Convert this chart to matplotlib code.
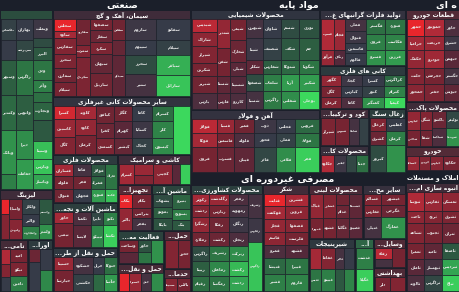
import matplotlib
matplotlib.use('Agg')
import matplotlib.pyplot as plt
from matplotlib.patches import Rectangle
from matplotlib.colors import to_rgb
import numpy as np

# ---------------- data: sectors -> columns -> (size, change %, symbol) ----------------
left_fin = [
    (16, [(22, 0.1, 'ملکشاش'), (20, 0.0, ''), (35, 0.6, 'وسپهر'), (35, 0.8, 'وکغدیر'), (45, 1.6, 'وبانک'), (15, 1.2, '')]),
    (17, [(22, 0.0, 'بهاران'), (20, 0.2, 'سرپرشه'), (35, 1.0, 'زاگرس'), (35, 0.6, 'واتوس'), (30, 1.5, 'دیرا'), (30, 1.8, 'حفاظت')]),
    (20, [(20, -0.1, 'وبملت'), (9, 0.3, ''), (13, 0.5, 'البرز'), (20, 1.0, 'ودی'), (12, 1.2, 'وآذر'), (10, 0.9, ''),
          (18, 0.7, 'وتجارت'), (22, 0.5, ''), (18, 2.5, 'وسینا'), (15, 2.6, 'وپارس'), (15, 2.0, 'وپاسار')]),
]
leasing = [
    (8, [(12, -3.5, ''), (20, -1.2, '')]),
    (14, [(16, -1.0, 'ولساپا'), (16, -1.3, 'ولبهمن')]),
    (17, [(12, 0.1, 'ولکار'), (10, 0.0, 'والبر'), (10, 1.2, 'ولتجارت')]),
    (14, [(20, 0.5, 'ولصنم'), (12, 1.6, 'ولغدر')]),
]
tamin = [
    (10, [(16, -2.0, ''), (14, -1.2, ''), (14, 0.0, '')]),
    (18, [(14, -1.0, 'امید'), (14, -1.1, 'تپکو'), (16, 1.2, 'تامین')]),
]
avraq = [
    (12, [(14, -0.8, ''), (30, 0.0, '')]),
    (13, [(22, 0.0, ''), (22, 1.4, '')]),
]
cement = [
    (22, [(13, -3.5, 'سخاش'), (7, -1.8, 'ساوه'), (16, -1.2, 'سفارس'), (14, -1.1, 'سخزر'), (15, -0.9, 'سمازن'), (14, -1.0, 'سیلام')]),
    (15, [(27, -0.9, 'سفارود'), (12, -1.2, 'سغرب'), (40, -1.1, 'سکرمان')]),
    (22, [(12, -1.0, 'سصفها'), (12, -0.8, 'سفار'), (12, -1.1, 'سکرد'), (20, -0.7, 'سبهان'), (23, -0.9, 'ساربیل')]),
    (13, [(22, -0.9, 'سقاین'), (15, -0.7, 'سدشت'), (42, -0.6, 'سیدکو')]),
    (32, [(22, -0.1, 'ساروم'), (15, 0.0, 'سیپوم'), (20, 0.3, 'سخزر'), (22, -0.2, 'سنیر')]),
    (34, [(22, 0.0, 'سفانو'), (15, 0.1, 'سیلام'), (21, 2.2, 'سباقر'), (21, 2.6, 'سارابل')]),
]
nonmetal = [
    (21, [(14, -2.6, 'کسرا'), (18, -1.6, 'کاسپین'), (18, -1.2, 'کگل')]),
    (22, [(14, -1.8, 'کلوند'), (16, -1.5, 'کاوه'), (20, -1.0, 'کرمان')]),
    (18, [(18, -0.9, 'کبافق'), (16, -0.8, 'کفرا'), (16, -1.1, 'کسعدی')]),
    (18, [(16, -0.9, 'کگاز'), (18, -0.5, 'کهرام'), (16, -0.7, 'کپشیر')]),
    (20, [(16, 0.0, 'کاما'), (17, -0.1, 'کساپا'), (17, 0.1, 'کخاک')]),
    (22, [(16, 0.9, 'کسرام'), (17, 1.3, 'کلر'), (17, 1.5, 'کیسون')]),
    (17, [(50, 3.0, '')]),
]
metal = [
    (20, [(13, -1.8, 'فسازان'), (13, -1.0, 'فلوله'), (14, -0.9, 'فنوال')]),
    (18, [(13, -0.2, 'فاما'), (13, -0.9, 'فجر'), (14, 0.0, 'فجهان')]),
    (15, [(13, 0.5, 'فولاژ'), (13, 0.7, 'فمراد'), (14, 1.8, 'فنورد')]),
    (12, [(26, 1.0, 'فاراک'), (14, 2.5, 'فکمند')]),
]
machinery = [
    (20, [(12, -1.8, 'خاور'), (25, -1.0, 'تپمپی')]),
    (18, [(14, -0.3, 'تکمبا'), (23, -0.5, 'لابسا')]),
    (13, [(14, 0.2, 'تایرا'), (23, 1.4, 'تیپیکو')]),
    (14, [(14, 1.2, 'تکنو'), (23, 2.8, 'تکشا')]),
]
rail = [
    (20, [(14, -1.6, 'حسینا'), (22, -1.0, 'حپارسا')]),
    (20, [(18, -0.2, 'حشکوه'), (18, 0.1, 'حکشتی')]),
    (12, [(18, 0.0, 'حریل'), (18, 0.8, 'حفارس')]),
    (13, [(18, 0.9, 'حتوکا'), (18, 1.8, 'حآسا')]),
]
tile = [
    (15, [(22, -1.8, 'کسرام')]),
    (20, [(12, -1.6, ''), (10, -1.2, '')]),
    (20, [(22, -1.4, 'کچینی')]),
    (8, [(22, -0.5, '')]),
    (10, [(22, 2.8, '')]),
]
equip = [
    (14, [(15, -3.0, 'بکاب'), (23, -1.5, 'بالبر')]),
    (20, [(15, -1.0, 'بکام'), (11, -0.9, 'بترانس'), (12, -0.2, 'بفجر')]),
]
elec = [
    (20, [(14, 0.3, 'بشهاب'), (12, 0.6, 'بموتو'), (12, 0.4, 'بایکا')]),
    (19, [(16, 0.7, 'بنیرو'), (12, 1.2, 'بسویچ'), (10, 0.5, 'بتک')]),
]
eng = [
    (20, [(13, -1.0, 'وساخت'), (12, -0.5, '')]),
    (13, [(13, 0.4, 'خاور'), (12, 1.0, '')]),
    (13, [(25, 1.6, '')]),
]
land = [
    (10, [(20, -3.0, 'حتوکا')]),
    (13, [(20, -1.6, 'حسیرا')]),
    (10, [(20, -0.2, 'حمل')]),
    (13, [(20, 1.5, '')]),
]
ship = [
    (14, [(30, -1.2, 'حکشتی')]),
    (13, [(30, -1.0, 'حخزر')]),
]
indus = [
    (13, [(15, -1.3, 'سمینا')]),
    (14, [(15, -1.0, 'بالاس')]),
]
chem = [
    (25, [(14, -2.2, 'شپدیس'), (14, -1.4, 'شاراک'), (17, -1.2, 'شیراز'), (13, -1.0, 'شکربن'), (18, -0.9, 'شبریز'), (16, -0.3, 'پارس')]),
    (14, [(30, -1.5, 'شغدیر'), (28, -1.0, 'شفن'), (18, -0.6, 'شستا'), (16, -0.5, 'فارس')]),
    (16, [(22, -1.0, 'شیمی'), (22, -0.8, 'شخارک'), (14, -0.5, 'شپلی'), (18, -0.4, 'شسینا'), (16, -0.3, 'کازرو')]),
    (17, [(20, -0.2, 'شبهرن'), (22, -0.1, 'شپنا'), (14, -0.6, 'شکلر'), (18, 0.3, 'شصفها'), (18, -0.2, 'شسپا')]),
    (18, [(20, 0.0, 'شاوان'), (22, 0.1, 'شصدف'), (14, 0.6, 'شفارس'), (18, 1.2, 'شلعاب'), (18, 1.1, 'زاگرس')]),
    (19, [(20, 0.3, 'شسم'), (22, 0.5, 'شکف'), (14, 0.8, 'شتوکا'), (18, 1.8, 'آریا'), (18, 1.5, 'شفاس')]),
    (20, [(20, 0.4, 'نوری'), (22, 0.6, 'جم'), (14, 1.0, 'شگویا'), (18, 1.8, 'شکبیر'), (18, 3.0, 'بوعلی')]),
]
iron = [
    (25, [(15, -2.2, 'فولاژ'), (14, -1.8, 'فوکا'), (26, -1.0, 'فروی')]),
    (18, [(15, -1.6, 'فسپا'), (14, -1.0, 'فاسمین'), (26, -0.8, 'فسرب')]),
    (20, [(15, -0.9, 'فمیر'), (14, -0.3, 'فلوله'), (26, -0.6, 'فیبان')]),
    (22, [(15, -0.1, 'ذوب'), (14, 0.0, 'فخوز'), (26, 0.2, 'فاذر')]),
    (20, [(15, 0.0, 'فخاس'), (14, 0.1, 'فملی'), (26, 1.5, 'فلامی')]),
    (24, [(15, 0.8, 'فروس'), (14, 1.0, 'فولاد'), (26, 2.8, 'فجر')]),
]
precious = [
    (13, [(32, -2.0, 'فسرب'), (16, -1.6, 'فرآور')]),
    (12, [(32, -1.6, 'فجام'), (16, -0.4, 'زنگان')]),
    (21, [(13, -0.2, 'فملی'), (12, -0.1, 'فنوال'), (11, 0.0, 'فاسمین'), (12, 0.0, 'فالوم')]),
    (20, [(16, 0.9, 'فگستر'), (16, 1.2, 'فروی'), (16, 1.6, 'فسرو')]),
    (20, [(16, 1.0, 'فنورد'), (16, 1.3, 'فکاسپ'), (16, 1.8, 'فزرین')]),
]
minerals = [
    (20, [(12, -1.5, 'کگهر'), (12, -1.0, 'کگل'), (11, -1.2, 'کرمان')]),
    (22, [(12, -0.1, 'کچاد'), (12, 0.0, 'کپارس'), (11, -0.3, 'کاما')]),
    (22, [(12, 0.0, 'کسرا'), (12, 0.1, 'کنور'), (11, 1.6, 'کمنگنز')]),
    (22, [(12, 0.8, 'کزاگرس'), (12, 1.3, 'کترام'), (11, 3.0, 'کیمیا')]),
]
nitro = [
    (15, [(29, -1.1, 'شیراز')]),
    (14, [(29, -1.0, 'شپرس')]),
    (11, [(29, -0.2, 'شاملا')]),
    (9, [(29, 0.1, 'شرانل')]),
]
paper = [
    (14, [(19, -2.0, 'چکاوه')]),
    (12, [(19, -0.1, 'چفیبر')]),
    (11, [(19, 0.2, 'چکارن')]),
    (12, [(19, 0.9, 'چدنا')]),
]
coal = [
    (17, [(14, -1.2, 'کزغال'), (14, -0.8, 'کشرق'), (28, 0.3, 'کپرور')]),
    (20, [(14, 0.0, 'کطبس'), (14, 1.2, 'کرمان'), (28, 1.6, '')]),
]
parts = [
    (18, [(18, -3.2, 'خمهر'), (14, -1.8, 'خزامیا'), (18, -1.5, 'خکمک'), (17, -1.2, 'خلنت'), (17, -1.3, 'خمحور')]),
    (20, [(18, -2.0, 'خموتور'), (14, -1.6, 'خریخت'), (18, -1.7, 'خودرو'), (17, -1.0, 'خچرخش'), (17, -1.1, 'خفنر')]),
    (16, [(18, -0.3, 'خاور'), (14, -0.1, 'خشرق'), (18, -0.5, 'خبهمن'), (17, -0.2, 'خگستر'), (17, -0.6, 'خپویش')]),
]
clean = [
    (13, [(20, -1.5, 'لپارس'), (17, -1.0, 'شاخص')]),
    (13, [(20, -1.2, 'شگل'), (17, -0.9, 'شفا')]),
    (14, [(18, -0.8, 'پاکشو'), (19, -0.3, 'شپاکسا')]),
    (14, [(18, 0.2, 'تولیمر'), (19, 1.6, 'شوینده')]),
]
auto = [
    (12, [(17, -1.6, 'خساپا')]),
    (12, [(17, -1.2, 'خودرو')]),
    (13, [(17, -1.3, 'خپارس')]),
    (17, [(17, -1.0, 'خکاوه')]),
]
realestate = [
    (18, [(20, -2.0, 'ثنوسا'), (12, -1.4, 'ثاخت'), (20, -1.2, 'ثشاهد'), (17, -1.0, 'ثعمرا'), (16, -0.5, 'ثامان'), (16, -0.3, 'ثالوند')]),
    (18, [(20, -1.6, 'ثفارس'), (12, -1.2, 'ثرود'), (20, -1.0, 'ثجنوب'), (17, -0.6, 'ثامید'), (16, -0.2, 'ثبهساز'), (16, 0.2, 'ثزاگرس')]),
    (18, [(20, -1.4, 'ثمسکن'), (12, -1.1, 'ثشرق'), (20, -0.8, 'ثتران'), (17, 0.5, 'ثاصفا'), (16, 2.0, 'ثپردیس'), (16, 2.8, 'ثباغ')]),
]
agri = [
    (18, [(12, -1.8, 'زکوثر'), (12, -1.2, 'زدشت'), (15, -1.5, 'زشگزا'), (14, -0.9, 'زملارد'), (16, 0.3, 'زاگرس'), (15, 0.6, 'زبینا'), (15, 0.9, 'زقیام')]),
    (20, [(12, -1.6, 'زگلدشت'), (12, -1.0, 'زپارس'), (15, -0.9, 'زفکا'), (14, -0.8, 'زکشت'), (16, 1.0, 'زشریف'), (15, 1.4, 'زماهان'), (15, 1.0, 'زمگسا')]),
    (20, [(12, -0.3, 'زفجر'), (12, -0.2, 'زمهویه'), (15, -0.1, 'زنگان'), (14, -0.3, 'زنجان'), (16, 1.5, 'زبرکت'), (15, 2.4, 'زکشت'), (15, 2.0, 'زدشت')]),
    (14, [(25, -0.2, 'زشریف'), (24, -0.1, 'زفارس'), (50, 2.6, 'زاگرس')]),
]
sugar = [
    (22, [(13, -3.2, 'قثابت'), (13, -1.8, 'قهکمت'), (13, -1.5, 'قچار'), (13, -1.4, 'قاسم'), (13, -0.3, 'قمرو'), (17, 0.8, 'قنیشا'), (17, 1.2, 'قشیر')]),
    (24, [(13, -1.9, 'قشرین'), (13, -1.4, 'قزوین'), (13, -1.3, 'قصفها'), (13, -1.0, 'قلرست'), (13, -0.4, 'قشهد'), (17, 1.0, 'قپیرا'), (17, 1.3, 'قاروم')]),
]
dairy = [
    (13, [(25, -1.5, 'غپاک'), (21, -1.0, 'غمهرا')]),
    (14, [(25, -1.2, 'غشاذر'), (21, -1.0, 'غشهد')]),
    (13, [(12, -0.9, 'غکورش'), (13, -0.8, 'غدام'), (21, -0.7, 'غگلپا')]),
    (14, [(25, -0.6, 'غشصفا'), (21, -0.5, 'غصینو')]),
]
food = [
    (18, [(12, -1.2, 'غسالم'), (12, -1.1, 'غفارس'), (22, -0.2, 'غنیلی')]),
    (25, [(12, -1.0, 'غبشهر'), (12, -0.8, 'غگرجی'), (22, 1.6, 'غمارگ')]),
]
sweets = [
    (12, [(22, -1.8, 'غشیرین'), (23, 1.0, 'غدیس')]),
    (14, [(22, -1.2, 'غفاما'), (23, 1.2, 'غپینو')]),
    (10, [(22, -0.2, 'غالبر'), (23, 0.5, 'غبهنوش')]),
    (10, [(22, 0.0, 'غکورش'), (23, 1.3, 'غبهار')]),
]
drinks = [
    (19, [(22, 1.2, 'غدشت'), (23, 2.8, 'غگیلا')]),
]
motor = [
    (18, [(12, -2.2, 'رفاه'), (9, -0.2, '')]),
    (14, [(21, -1.0, '')]),
]
beh = [
    (16, [(16, -1.0, 'دلر')]),
    (16, [(16, -1.2, '')]),
]

sector_titles = {
    'left_fin': '', 'leasing': 'لیزینگ', 'tamin': 'تامین سرمایه', 'avraq': 'اوراق بهادار',
    'cement': 'سیمان، آهک و گچ', 'nonmetal': 'سایر محصولات کانی غیرفلزی',
    'metal': 'محصولات فلزی', 'machinery': 'ماشین آلات و تجهیزات',
    'rail': 'حمل و نقل از طریق خطوط راه آهن', 'tile': 'کاشی و سرامیک',
    'equip': 'تجهیزات صنعتی', 'elec': 'ماشین آلات الکتریکی', 'eng': 'فعالیت مهندسی',
    'land': 'حمل و نقل بار زمینی', 'ship': 'حمل و نقل کشتیرانی', 'indus': 'خدمات صنعتی',
    'chem': 'محصولات شیمیایی', 'iron': 'آهن و فولاد', 'precious': 'تولید فلزات گرانبهای غیرآهنی',
    'minerals': 'کانی های فلزی', 'nitro': 'کود و ترکیبات نیتروژن', 'paper': 'محصولات کاغذی',
    'coal': 'زغال سنگ', 'parts': 'قطعات خودرو', 'clean': 'محصولات پاک کننده', 'auto': 'خودرو',
    'realestate': 'انبوه سازی املاک و مستغلات', 'agri': 'محصولات کشاورزی و دامپروری',
    'sugar': 'شکر', 'dairy': 'محصولات لبنی', 'food': 'سایر محصولات غذایی', 'sweets': 'شیرینیجات',
    'drinks': 'آشامیدنی', 'motor': 'وسایل نقلیه موتوری', 'beh': 'بهداشتی',
}
sector_data = {
    'left_fin': left_fin, 'leasing': leasing, 'tamin': tamin, 'avraq': avraq, 'cement': cement,
    'nonmetal': nonmetal, 'metal': metal, 'machinery': machinery, 'rail': rail, 'tile': tile,
    'equip': equip, 'elec': elec, 'eng': eng, 'land': land, 'ship': ship, 'indus': indus,
    'chem': chem, 'iron': iron, 'precious': precious, 'minerals': minerals, 'nitro': nitro,
    'paper': paper, 'coal': coal, 'parts': parts, 'clean': clean, 'auto': auto,
    'realestate': realestate, 'agri': agri, 'sugar': sugar, 'dairy': dairy, 'food': food,
    'sweets': sweets, 'drinks': drinks, 'motor': motor, 'beh': beh,
}

# treemap structure (relative sizes of groups)
layout = ('H', [
    (53, ('V', [(10, ('T', '', 0.5)), (180, ('S', 'left_fin')), (50, ('S', 'leasing')),
                (52, ('H', [(28, ('S', 'tamin')), (25, ('S', 'avraq'))]))])),
    (138, ('V', [(10, ('T', 'صنعتی', 0.5)), (87, ('S', 'cement')), (58, ('S', 'nonmetal')),
                 (137, ('H', [
                     (65, ('V', [(48, ('S', 'metal')), (45, ('S', 'machinery')), (44, ('S', 'rail'))])),
                     (73, ('V', [(30, ('S', 'tile')), (107, ('V', [
                         (46, ('H', [(34, ('S', 'equip')), (39, ('S', 'elec'))])),
                         (61, ('H', [(46, ('V', [(33, ('S', 'eng')), (28, ('S', 'land'))])),
                                     (27, ('V', [(38, ('S', 'ship')), (23, ('S', 'indus'))]))]))]))]))]))])),
    (215, ('V', [
        (10, ('T', 'مواد پایه', 0.5)),
        (163, ('H', [(129, ('V', [(100, ('S', 'chem')), (63, ('S', 'iron'))])),
                     (86, ('V', [(56, ('S', 'precious')), (43, ('S', 'minerals')),
                                 (64, ('H', [(49, ('V', [(37, ('S', 'nitro')), (27, ('S', 'paper'))])),
                                             (37, ('S', 'coal'))]))]))])),
        (12, ('T', 'مصرفی غیردوره ای', 0.45)),
        (107, ('H', [(72, ('S', 'agri')), (46, ('S', 'sugar')),
                     (97, ('V', [(54, ('H', [(54, ('S', 'dairy')), (43, ('S', 'food'))])),
                                 (53, ('H', [(46, ('S', 'sweets')), (19, ('S', 'drinks')),
                                             (32, ('V', [(29, ('S', 'motor')), (24, ('S', 'beh'))]))]))]))]))])),
    (54, ('V', [(10, ('T', 'ه ای', 0.74)), (92, ('S', 'parts')), (45, ('S', 'clean')), (24, ('S', 'auto')),
                (12, ('T', 'املاک و مستغلات', 0.5)), (109, ('S', 'realestate'))])),
])

# ---------------- Persian shaping (presentation forms) ----------------
FORMS = {
    'ا': ('\uFE8D', '\uFE8E', None, None), 'آ': ('\uFE81', '\uFE82', None, None),
    'ب': ('\uFE8F', '\uFE90', '\uFE91', '\uFE92'), 'پ': ('\uFB56', '\uFB57', '\uFB58', '\uFB59'),
    'ت': ('\uFE95', '\uFE96', '\uFE97', '\uFE98'), 'ث': ('\uFE99', '\uFE9A', '\uFE9B', '\uFE9C'),
    'ج': ('\uFE9D', '\uFE9E', '\uFE9F', '\uFEA0'), 'چ': ('\uFB7A', '\uFB7B', '\uFB7C', '\uFB7D'),
    'ح': ('\uFEA1', '\uFEA2', '\uFEA3', '\uFEA4'), 'خ': ('\uFEA5', '\uFEA6', '\uFEA7', '\uFEA8'),
    'د': ('\uFEA9', '\uFEAA', None, None), 'ذ': ('\uFEAB', '\uFEAC', None, None),
    'ر': ('\uFEAD', '\uFEAE', None, None), 'ز': ('\uFEAF', '\uFEB0', None, None),
    'ژ': ('\uFB8A', '\uFB8B', None, None),
    'س': ('\uFEB1', '\uFEB2', '\uFEB3', '\uFEB4'), 'ش': ('\uFEB5', '\uFEB6', '\uFEB7', '\uFEB8'),
    'ص': ('\uFEB9', '\uFEBA', '\uFEBB', '\uFEBC'), 'ض': ('\uFEBD', '\uFEBE', '\uFEBF', '\uFEC0'),
    'ط': ('\uFEC1', '\uFEC2', '\uFEC3', '\uFEC4'), 'ظ': ('\uFEC5', '\uFEC6', '\uFEC7', '\uFEC8'),
    'ع': ('\uFEC9', '\uFECA', '\uFECB', '\uFECC'), 'غ': ('\uFECD', '\uFECE', '\uFECF', '\uFED0'),
    'ف': ('\uFED1', '\uFED2', '\uFED3', '\uFED4'), 'ق': ('\uFED5', '\uFED6', '\uFED7', '\uFED8'),
    'ک': ('\uFB8E', '\uFB8F', '\uFB90', '\uFB91'), 'گ': ('\uFB92', '\uFB93', '\uFB94', '\uFB95'),
    'ل': ('\uFEDD', '\uFEDE', '\uFEDF', '\uFEE0'), 'م': ('\uFEE1', '\uFEE2', '\uFEE3', '\uFEE4'),
    'ن': ('\uFEE5', '\uFEE6', '\uFEE7', '\uFEE8'), 'و': ('\uFEED', '\uFEEE', None, None),
    'ه': ('\uFEE9', '\uFEEA', '\uFEEB', '\uFEEC'), 'ی': ('\uFBFC', '\uFBFD', '\uFBFE', '\uFBFF'),
    'ئ': ('\uFE89', '\uFE8A', '\uFE8B', '\uFE8C'),
}


def joins_next(c):
    return c in FORMS and FORMS[c][2] is not None


def shape(s):
    out = []
    i, n = 0, len(s)
    while i < n:
        c = s[i]
        if c not in FORMS:
            out.append(c)
            i += 1
            continue
        cp = i > 0 and joins_next(s[i - 1])
        if c == 'ل' and i + 1 < n and s[i + 1] in ('ا', 'آ'):
            if s[i + 1] == 'ا':
                out.append('\uFEFC' if cp else '\uFEFB')
            else:
                out.append('\uFEF6' if cp else '\uFEF5')
            i += 2
            continue
        cn = joins_next(c) and i + 1 < n and s[i + 1] in FORMS
        iso, fin, ini, med = FORMS[c]
        out.append(med if (cp and cn) else fin if cp else ini if cn else iso)
        i += 1
    return ''.join(reversed(out))


# ---------------- styling ----------------
BG = '#1b1f2a'
stops = [(-3, '#e8262c'), (-2, '#b02a38'), (-1, '#762432'), (-0.4, '#54293a'), (0, '#363b48'),
         (0.4, '#2d5240'), (1, '#2d7544'), (2, '#33a552'), (3, '#3cd85d')]
sx_ = [s[0] for s in stops]
scol = [to_rgb(s[1]) for s in stops]


def chg_color(v):
    v = max(-3, min(3, v))
    return tuple(float(np.interp(v, sx_, [c[k] for c in scol])) for k in range(3))


def blend(c1, c2, t):
    return tuple(a * t + b * (1 - t) for a, b in zip(c1, c2))


def split(rect, weights, horizontal):
    x, y, w, h = rect
    tot = float(sum(weights))
    res, pos = [], 0.0
    for wt in weights:
        if horizontal:
            res.append((x + w * pos / tot, y, w * wt / tot, h))
        else:
            res.append((x, y + h * pos / tot, w, h * wt / tot))
        pos += wt
    return res


fig = plt.figure(figsize=(4.6, 2.92), dpi=100)
fig.patch.set_facecolor(BG)
ax = fig.add_axes([0, 0, 1, 1])
ax.set_xlim(0, 460)
ax.set_ylim(292, 0)
ax.axis('off')
ax.set_facecolor(BG)
renderer = fig.canvas.get_renderer()

HDR = 7.5


def fit_text(x, y, logical, maxw, size, ha='center', color='white', truncate=True, minsize=None):
    """Draw shaped RTL text; truncate (ellipsis on the visual left) or shrink so it fits maxw px."""
    t = ax.text(x, y, shape(logical), ha=ha, va='center', color=color, fontsize=size,
                fontweight='bold', clip_on=True)
    wpx = t.get_window_extent(renderer).width
    if wpx <= maxw:
        return t
    if not truncate:
        s = size
        while wpx > maxw and s > (minsize or 2.2):
            s -= 0.2
            t.set_fontsize(s)
            wpx = t.get_window_extent(renderer).width
        if wpx > maxw:
            t.remove()
            return None
        return t
    words = logical
    while len(words) > 1:
        words = words[:-1].rstrip()
        t.set_text('...' + shape(words))
        if t.get_window_extent(renderer).width <= maxw:
            return t
    t.remove()
    return None


def draw_sector(key, rect):
    cols = sector_data[key]
    x, y, w, h = rect
    g = 1.0
    x, y, w, h = x + g, y + g, w - 2 * g, h - 2 * g
    allc = [c for col in cols for c in col[1]]
    avg = sum(c[0] * c[1] for c in allc) / sum(c[0] for c in allc)
    hc = blend(chg_color(avg), to_rgb('#2a2f3a'), 0.45)
    ax.add_patch(Rectangle((x, y), w, HDR, facecolor=hc, edgecolor='none'))
    title = sector_titles[key]
    if title:
        fit_text(x + w / 2, y + HDR / 2 + 0.3, title, w - 3, 4.3)
    area = (x, y + HDR, w, h - HDR)
    crects = split(area, [c[0] for c in cols], True)
    for cr, (cw, cells) in zip(crects, cols):
        rr = split(cr, [c[0] for c in cells], False)
        for (rx, ry, rw, rh), (sz, chg, name) in zip(rr, cells):
            ax.add_patch(Rectangle((rx, ry), rw, rh, facecolor=chg_color(chg),
                                   edgecolor='#1e222c', linewidth=0.45))
            if name and rw >= 9 and rh >= 6:
                fit_text(rx + rw / 2, ry + rh / 2, name, rw - 2, 3.0, color='#ececec',
                         truncate=False, minsize=2.2)


def draw_title(text, frac, rect):
    x, y, w, h = rect
    if text:
        fit_text(x + w * frac, y + h / 2 + 0.5, text, w - 2, 6.8, truncate=False, minsize=4.0)


def place(node, rect):
    kind = node[0]
    if kind in ('H', 'V'):
        items = node[1]
        for r, (wt, child) in zip(split(rect, [it[0] for it in items], kind == 'H'), items):
            place(child, r)
    elif kind == 'T':
        draw_title(node[1], node[2], rect)
    elif kind == 'S':
        draw_sector(node[1], rect)


place(layout, (0, 0, 460, 292))
fig.savefig('out.png', dpi=100, facecolor=BG)
